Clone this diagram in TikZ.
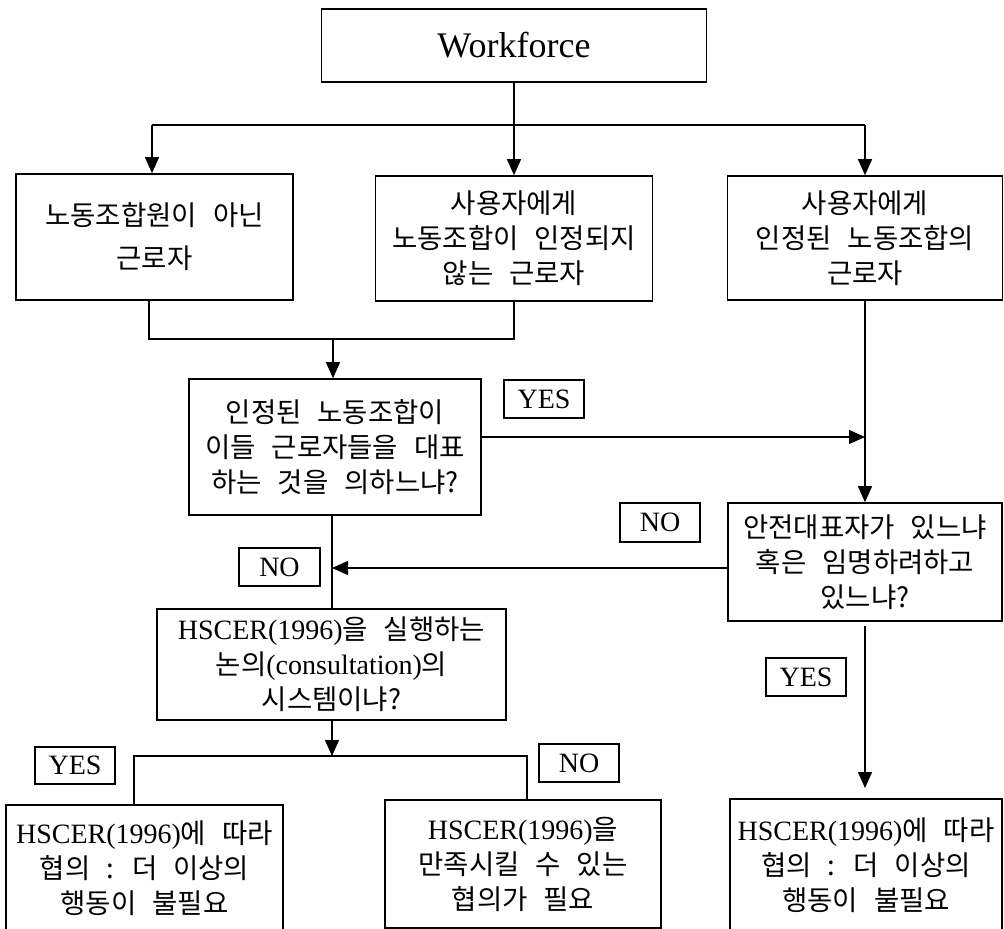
\documentclass[tikz,border=0pt]{standalone}
\usepackage{fontspec}
\setmainfont{Liberation Serif}
\newfontfamily\krfont[WordSpace=2.6]{Noto Sans CJK KR}
\usetikzlibrary{arrows.meta}
\newcommand\latn[1]{{\rmfamily\fontsize{28}{35}\selectfont #1}}
\begin{document}
\begin{tikzpicture}[x=1pt,y=-1pt,
  box/.style={draw, line width=1.6pt, inner sep=0pt, align=center,
    font=\krfont\fontsize{27.5}{35}\selectfont},
  lab/.style={draw, line width=1.3pt, inner sep=0pt,
    font=\fontsize{28}{34}\selectfont},
  conn/.style={line width=1.2pt},
  arr/.style={conn, -{Triangle[length=16pt,width=14pt]}}]
\useasboundingbox (0,0) rectangle (1004,929);
\fill[white] (0,0) rectangle (1004,929);

\node[box, minimum width=385, minimum height=73, font=\fontsize{36}{40}\selectfont] (wf) at (514,45.5) {Workforce};
\node[box, minimum width=277, minimum height=126] (a) at (154.5,237) {노동조합원이 아닌\\[8pt]근로자};
\node[box, minimum width=277, minimum height=125] (b) at (514,238.5) {사용자에게\\노동조합이 인정되지\\않는 근로자};
\node[box, minimum width=275, minimum height=124] (c) at (865,238) {사용자에게\\인정된 노동조합의\\근로자};
\node[box, minimum width=292, minimum height=136] (q1) at (335,447) {인정된 노동조합이\\이들 근로자들을 대표\\하는 것을 의하느냐?};
\node[box, minimum width=274, minimum height=118] (rq) at (865,562) {안전대표자가 있느냐\\혹은 임명하려하고\\있느냐?};
\node[box, minimum width=349, minimum height=111] (q2) at (331.5,664.5) {\latn{HSCER(1996)}을 실행하는\\논의\latn{(consultation)}의\\시스템이냐?};
\node[box, minimum width=277, minimum height=126] (bl) at (144.5,868) {\latn{HSCER(1996)}에 따라\\협의 : 더 이상의\\행동이 불필요};
\node[box, minimum width=276, minimum height=128] (bm) at (523,864) {\latn{HSCER(1996)}을\\만족시킬 수 있는\\협의가 필요};
\node[box, minimum width=272, minimum height=132] (br) at (866,865) {\latn{HSCER(1996)}에 따라\\협의 : 더 이상의\\행동이 불필요};

\node[lab, minimum width=80, minimum height=38] (yes1) at (544,399) {YES};
\node[lab, minimum width=80, minimum height=39] (no1) at (660,522.5) {NO};
\node[lab, minimum width=81, minimum height=38] (no2) at (279.5,567) {NO};
\node[lab, minimum width=80, minimum height=37] (yes2) at (75,765.5) {YES};
\node[lab, minimum width=80, minimum height=38] (no3) at (579,763) {NO};
\node[lab, minimum width=80, minimum height=38] (yes3) at (806,677) {YES};

\coordinate (t1) at (152,125);
\coordinate (t2) at (865,125);
\draw[conn] (t1) -- (t2);
\draw[arr] (wf.south) -- (b.north);
\draw[arr] (t1) -- (t1 |- a.north);
\draw[arr] (t2) -- (c.north);

\coordinate (m1) at (149,339);
\coordinate (m2) at (514,339);
\coordinate (m3) at (333,339);
\draw[conn] (a.south -| m1) -- (m1) -- (m2) -- (b.south -| m2);
\draw[arr] (m3) -- (m3 |- q1.north);

\coordinate (j1) at (865,437);
\draw[arr] (q1.east |- j1) -- (j1);
\draw[arr] (c.south) -- (rq.north);
\coordinate (j2) at (332,568);
\draw[arr] (rq.west |- j2) -- (j2);
\draw[conn] (q1.south -| j2) -- (q2.north -| j2);

\coordinate (k0) at (332,756);
\coordinate (k1) at (134,756);
\coordinate (k2) at (527,756);
\draw[arr] (q2.south -| k0) -- (k0);
\draw[conn] (bl.north -| k1) -- (k1) -- (k2) -- (bm.north -| k2);
\coordinate (j3) at (865,788);
\draw[arr] ([yshift=-4pt]rq.south) -- (j3);
\end{tikzpicture}
\end{document}
